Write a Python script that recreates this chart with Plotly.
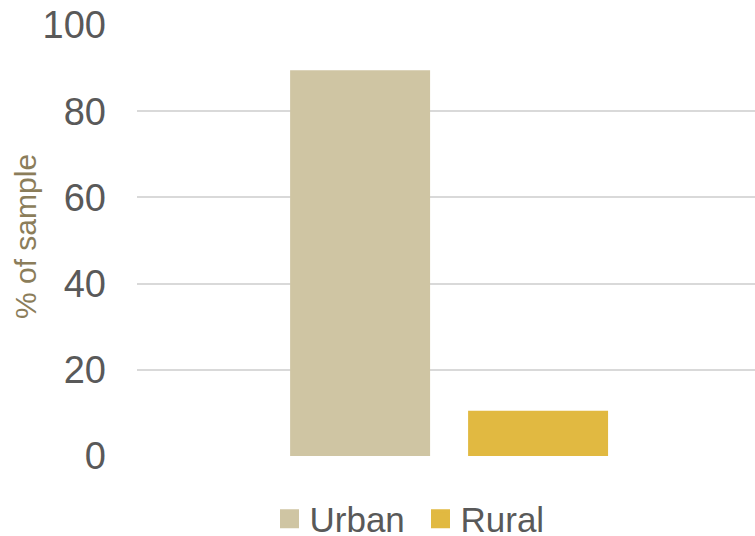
import plotly.graph_objects as go

# Share of the sample by area type
categories = ["Sample"]
series_names = ["Urban", "Rural"]
urban_values = [89.5]
rural_values = [10.5]
series_colors = ["#CFC5A3", "#E1B941"]
y_ticks = [0, 20, 40, 60, 80, 100]

fig = go.Figure()
for name, vals, color in zip(series_names, [urban_values, rural_values], series_colors):
    fig.add_trace(go.Bar(x=categories, y=vals, name=name, showlegend=False,
                         marker=dict(color=color, line=dict(width=0))))
    # square legend keys
    fig.add_trace(go.Scatter(x=[None], y=[None], name=name, mode="markers",
                             marker=dict(symbol="square", size=16, color=color,
                                         line=dict(color=color, width=3))))

W, H = 755, 536
left, right, top, bottom = 137, 0, 25, 80
plot_w = W - left - right
plot_h = H - top - bottom

fig.update_layout(
    width=W, height=H,
    margin=dict(l=left, r=right, t=top, b=bottom, pad=0, autoexpand=False),
    paper_bgcolor="white", plot_bgcolor="white",
    barmode="group", bargap=0.424, bargroupgap=0.2135,
    font=dict(family="Liberation Sans, Arial, sans-serif", color="#595959"),
    showlegend=True,
    legend=dict(orientation="h", xref="container", x=420.5 / W, xanchor="center",
                yref="container", y=(H - 519) / H, yanchor="middle",
                font=dict(size=35, color="#595959"), itemsizing="trace",
                entrywidth=106, bgcolor="rgba(0,0,0,0)"),
    xaxis=dict(range=[-0.505, 0.495], showticklabels=False, showgrid=False,
               zeroline=False, showline=False, ticks="", fixedrange=True),
    yaxis=dict(range=[0, 100], tickvals=y_ticks, ticktext=[str(v) for v in y_ticks],
               showgrid=True, gridcolor="#D9D9D9", gridwidth=1.8,
               zeroline=False, showline=False, ticks="",
               tickfont=dict(size=38, color="#595959"), ticklabelstandoff=30),
    annotations=[dict(text="% of sample", xref="paper", yref="paper",
                      x=(25.5 - left) / plot_w, y=(456 - 236.5) / plot_h,
                      xanchor="center", yanchor="middle", textangle=-90,
                      showarrow=False, font=dict(size=30, color="#8B7D5A"))],
)

fig.write_html("out.html")
